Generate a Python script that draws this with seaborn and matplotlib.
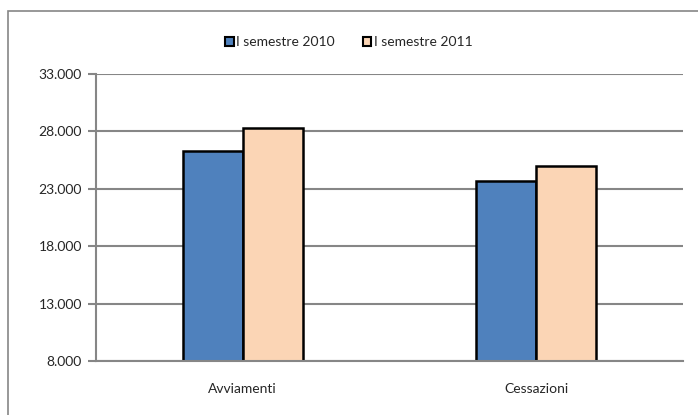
# plot.py
# Grouped bar chart: Avviamenti / Cessazioni, I semestre 2010 vs 2011
import pandas as pd
import seaborn as sns
import matplotlib.pyplot as plt
from matplotlib.patches import Rectangle
from matplotlib.ticker import FuncFormatter

# --- data ---
categories = ['Avviamenti', 'Cessazioni']
series = ['I semestre 2010', 'I semestre 2011']
values_2010 = [26300, 23650]
values_2011 = [28300, 25000]
colors = ['#4F81BD', '#FBD5B5']

df = pd.DataFrame({
    'categoria': categories * 2,
    'periodo': [series[0]] * 2 + [series[1]] * 2,
    'valore': values_2010 + values_2011,
})

sns.set_style('white')
plt.rcParams['font.family'] = ['Lato', 'DejaVu Sans']

fig = plt.figure(figsize=(6.98, 4.15), dpi=100)
ax = fig.add_axes([0.1375, 0.130, 0.841, 0.692])

sns.barplot(data=df, x='categoria', y='valore', hue='periodo',
            palette=colors, saturation=1, width=0.41, edgecolor='black',
            linewidth=1.8, ax=ax, zorder=3, legend=True)

ax.set_ylim(8000, 33000)
ax.set_yticks(range(8000, 33001, 5000))
ax.yaxis.set_major_formatter(FuncFormatter(lambda v, p: f'{int(v):,}'.replace(',', '.')))
ax.grid(axis='y', color='#868686', linewidth=1.5, zorder=0)
ax.set_xlabel('')
ax.set_ylabel('')

for s in ['top', 'right']:
    ax.spines[s].set_visible(False)
for s in ['left', 'bottom']:
    ax.spines[s].set_color('#868686')
    ax.spines[s].set_linewidth(1.5)
ax.spines['bottom'].set_zorder(4)

ax.tick_params(axis='y', left=True, length=6, width=1.5, color='#868686',
               labelsize=10, pad=4)
ax.tick_params(axis='x', bottom=False, labelsize=10, pad=12)

# legend at the top, centred on the figure
handles, labels = ax.get_legend_handles_labels()
ax.get_legend().remove()
for h in handles:
    h.set_linewidth(1.5)
fig.legend(handles, labels, loc='center', bbox_to_anchor=(0.5, 0.898),
           ncol=2, frameon=False, fontsize=10, handlelength=0.6,
           handleheight=0.6, handletextpad=0.2, columnspacing=2.0)

# chart border (partly cut off on the right and bottom, as in the source)
fig.patches.append(Rectangle((8 / 698, -0.05), 1.1, 1 - 11 / 415 + 0.05,
                             transform=fig.transFigure, fill=False,
                             edgecolor='#868686', linewidth=1.2))

fig.savefig('out.png', dpi=100)
